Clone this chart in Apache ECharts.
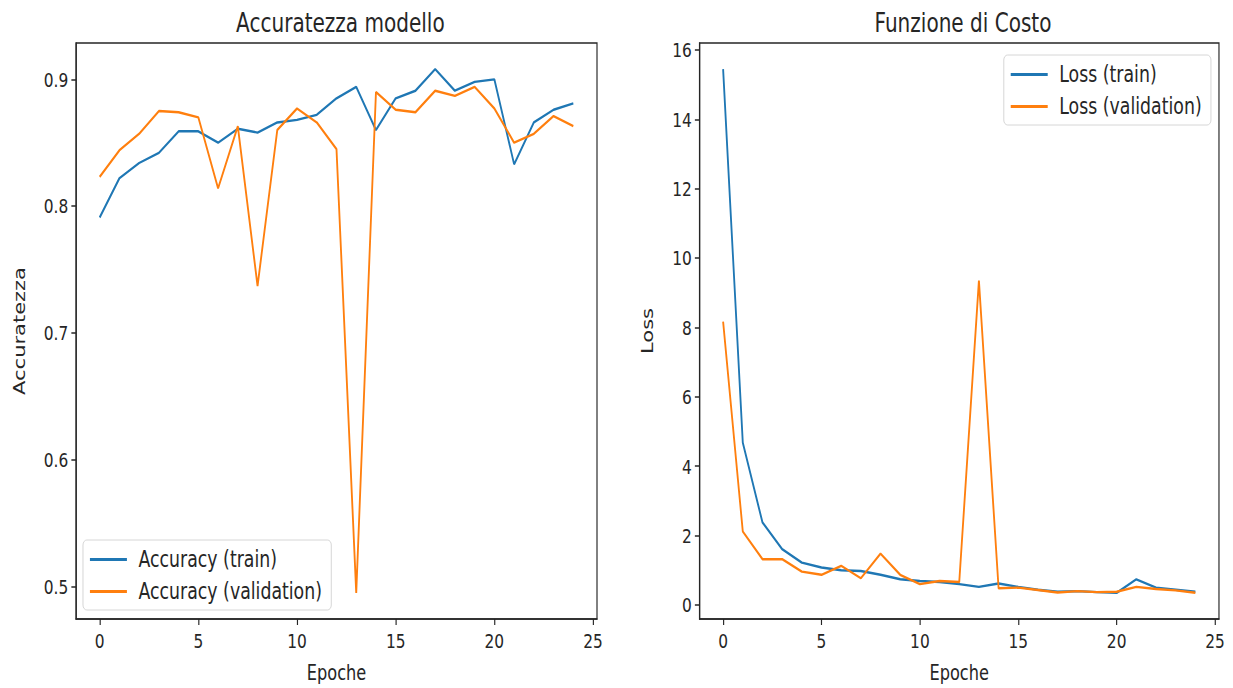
<!DOCTYPE html>
<html>
<head>
<meta charset="utf-8">
<script src="https://cdn.jsdelivr.net/npm/echarts@6/dist/echarts.min.js"></script>
<style>
  html, body { margin: 0; padding: 0; background: #fff; overflow: hidden; }
  #chart { width: 1600px; height: 688px; transform: scaleX(0.770625); transform-origin: 0 0; }
</style>
</head>
<body>
<div id="chart"></div>
<script>
// ---- data ----
const epochs = [0,1,2,3,4,5,6,7,8,9,10,11,12,13,14,15,16,17,18,19,20,21,22,23,24];
const accTrain = [0.791,0.822,0.834,0.842,0.859,0.859,0.850,0.861,0.858,0.866,0.868,0.872,0.885,0.894,0.860,0.885,0.891,0.908,0.891,0.898,0.900,0.833,0.866,0.876,0.881];
const accVal   = [0.823,0.844,0.857,0.875,0.874,0.870,0.814,0.863,0.737,0.860,0.877,0.866,0.845,0.495,0.890,0.876,0.874,0.891,0.887,0.894,0.877,0.850,0.857,0.871,0.863];
const lossTrain = [15.45,4.68,2.38,1.61,1.22,1.08,1.00,0.98,0.87,0.74,0.69,0.66,0.60,0.52,0.62,0.52,0.44,0.38,0.40,0.37,0.35,0.74,0.50,0.44,0.38];
const lossVal   = [8.17,2.12,1.32,1.32,0.96,0.87,1.13,0.77,1.48,0.87,0.60,0.69,0.66,9.35,0.48,0.50,0.43,0.36,0.40,0.37,0.38,0.52,0.46,0.42,0.35];
const xTicks = [0,5,10,15,20,25];
const accTicks = [0.5,0.6,0.7,0.8,0.9];
const lossTicks = [0,2,4,6,8,10,12,14,16];
const titles = ['Accuratezza modello', 'Funzione di Costo'];
const names = ['Accuracy (train)', 'Accuracy (validation)', 'Loss (train)', 'Loss (validation)'];

const BLUE = '#1f77b4', ORANGE = '#ff7f0e', INK = '#262626';
const FONT = 'DejaVu Sans';

function pairs(ys) { return epochs.map((e, i) => [e, ys[i]]); }
function range(arrs) {
  const all = [].concat(...arrs);
  const lo = Math.min(...all), hi = Math.max(...all), m = (hi - lo) * 0.05;
  return [lo - m, hi + m];
}
const xr = range([epochs]);
const accR = range([accTrain, accVal]);
const lossR = range([lossTrain, lossVal]);

function xAxis(gi) {
  return {
    type: 'value', gridIndex: gi, min: xr[0], max: xr[1],
    name: 'Epoche', nameLocation: 'middle', nameGap: 43,
    nameTextStyle: { fontFamily: FONT, fontSize: 21, color: INK },
    axisLine: { show: true, onZero: false, lineStyle: { color: INK, width: 1.5 } },
    axisTick: { show: true, inside: false, length: 6, customValues: xTicks, lineStyle: { color: INK, width: 1.5 } },
    axisLabel: { customValues: xTicks, fontFamily: FONT, fontSize: 20, color: INK, margin: 12 },
    splitLine: { show: false }
  };
}
function yAxis(gi, r, ticks, name, gap, dec) {
  return {
    type: 'value', gridIndex: gi, min: r[0], max: r[1],
    name: name, nameLocation: 'middle', nameGap: gap,
    nameTextStyle: { fontFamily: FONT, fontSize: 21, color: INK },
    axisLine: { show: true, onZero: false, lineStyle: { color: INK, width: 1.5 } },
    axisTick: { show: true, inside: false, length: 6, customValues: ticks, lineStyle: { color: INK, width: 1.5 } },
    axisLabel: { customValues: ticks, fontFamily: FONT, fontSize: 20, color: INK, margin: 10,
                 formatter: v => v.toFixed(dec) },
    splitLine: { show: false }
  };
}
function line(name, gi, ys, color) {
  return {
    name: name, type: 'line', xAxisIndex: gi, yAxisIndex: gi,
    data: pairs(ys), symbol: 'none', showSymbol: false, smooth: false,
    lineStyle: { color: color, width: 2.4 }, itemStyle: { color: color },
    emphasis: { disabled: true }, animation: false
  };
}
function legend(names, pos) {
  return Object.assign({
    orient: 'vertical', data: names, icon: 'path://M0,0 L48,0 L48,3 L0,3 Z',
    itemWidth: 48, itemHeight: 3, itemGap: 9,
    textStyle: { fontFamily: FONT, fontSize: 22.5, color: INK, lineHeight: 22, padding: [0, 0, 0, 10] },
    borderColor: '#d0d0d0', borderWidth: 1, borderRadius: 5,
    backgroundColor: 'rgba(255,255,255,0.85)', padding: [8, 12, 7, 9],
    selectedMode: false
  }, pos);
}

const chart = echarts.init(document.getElementById('chart'), null, { renderer: 'svg' });
chart.setOption({
  animation: false,
  backgroundColor: '#fff',
  title: [
    { text: titles[0], left: 436.7, top: 4, textAlign: 'center',
      textStyle: { fontFamily: FONT, fontSize: 26, fontWeight: 'normal', color: INK } },
    { text: titles[1], left: 1244.6, top: 4, textAlign: 'center',
      textStyle: { fontFamily: FONT, fontSize: 26, fontWeight: 'normal', color: INK } }
  ],
  grid: [
    { left: 98.6, right: 825.3, top: 43, bottom: 69, show: true, borderColor: INK, borderWidth: 1.5, backgroundColor: 'transparent' },
    { left: 907.7, right: 18.2, top: 43, bottom: 69, show: true, borderColor: INK, borderWidth: 1.5, backgroundColor: 'transparent' }
  ],
  xAxis: [xAxis(0), xAxis(1)],
  yAxis: [yAxis(0, accR, accTicks, 'Accuratezza', 63, 1), yAxis(1, lossR, lossTicks, 'Loss', 57, 0)],
  legend: [
    legend([names[0], names[1]], { left: 107.7, bottom: 78 }),
    legend([names[2], names[3]], { right: 28.6, top: 55 })
  ],
  series: [
    line(names[0], 0, accTrain, BLUE),
    line(names[1], 0, accVal, ORANGE),
    line(names[2], 1, lossTrain, BLUE),
    line(names[3], 1, lossVal, ORANGE)
  ]
});
</script>
</body>
</html>
